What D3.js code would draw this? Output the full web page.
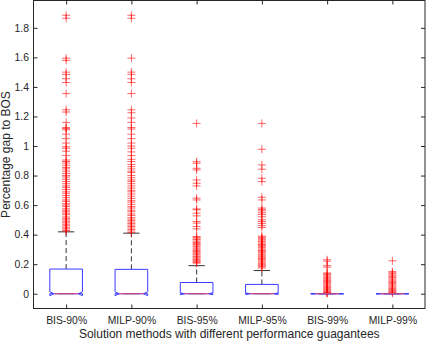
<!DOCTYPE html>
<html>
<head>
<meta charset="utf-8">
<script src="https://cdn.jsdelivr.net/npm/d3@7"></script>
<style>
  body { margin: 0; background: #fff; }
  text { font-family: "Liberation Sans", Arial, sans-serif; fill: #262626; }
</style>
</head>
<body>
<script>
'use strict';

// box statistics
const categories = ["BIS-90%", "MILP-90%", "BIS-95%", "MILP-95%", "BIS-99%", "MILP-99%"];
const q1 = [0, 0, 0, 0, 0, 0];
const medians = [0, 0, 0, 0, 0, 0];
const q3 = [0.167, 0.165, 0.076, 0.063, 0, 0];
const whiskerHi = [0.419, 0.41, 0.19, 0.157, 0, 0];
const whiskerLo = [0, 0, 0, 0, 0, 0];
const yTicks = [0, 0.2, 0.4, 0.6, 0.8, 1, 1.2, 1.4, 1.6, 1.8];

// outliers (red +)
const outBIS90 = [1.885, 1.865, 1.595, 1.58, 1.5, 1.485, 1.455, 1.43, 1.355, 1.245, 1.23, 1.16, 1.125, 1.118,
  1.11, 1.08, 1.05, 1.02, 0.995, 0.985, 0.965, 0.935, 0.905, 0.895, 0.885, 0.87, 0.855, 0.845, 0.83, 0.815,
  0.8, 0.79, 0.775, 0.76, 0.745, 0.73, 0.72, 0.705, 0.69, 0.68, 0.665, 0.65, 0.635, 0.625, 0.61, 0.6, 0.59,
  0.575, 0.565, 0.555, 0.545, 0.535, 0.52, 0.51, 0.5, 0.49, 0.48, 0.47, 0.46, 0.45, 0.44, 0.43, 0.425];
const outMILP90 = [1.885, 1.865, 1.595, 1.5, 1.485, 1.455, 1.43, 1.355, 1.245, 1.225, 1.19, 1.16, 1.125, 1.115,
  1.08, 1.05, 1.02, 1.0, 0.985, 0.96, 0.935, 0.91, 0.895, 0.875, 0.86, 0.845, 0.83, 0.82, 0.8, 0.785, 0.77,
  0.76, 0.745, 0.73, 0.715, 0.7, 0.69, 0.675, 0.66, 0.645, 0.63, 0.62, 0.605, 0.59, 0.58, 0.565, 0.555, 0.54,
  0.53, 0.515, 0.505, 0.495, 0.485, 0.475, 0.465, 0.455, 0.445, 0.435, 0.425, 0.415];
const outBIS95 = [1.153, 0.894, 0.883, 0.849, 0.838, 0.77, 0.748, 0.73, 0.647, 0.635, 0.574, 0.568, 0.545,
  0.527, 0.489, 0.478, 0.455, 0.439, 0.387, 0.381, 0.371, 0.366, 0.356, 0.347, 0.341, 0.333, 0.324, 0.318,
  0.309, 0.301, 0.292, 0.286, 0.277, 0.27, 0.263, 0.254, 0.248, 0.241, 0.232, 0.226, 0.219, 0.212, 0.207];
const outMILP95 = [1.153, 0.978, 0.872, 0.843, 0.782, 0.759, 0.653, 0.635, 0.58, 0.571, 0.561, 0.548, 0.536,
  0.521, 0.5, 0.489, 0.476, 0.461, 0.448, 0.39, 0.382, 0.376, 0.366, 0.357, 0.351, 0.342, 0.333, 0.327, 0.318,
  0.311, 0.302, 0.293, 0.287, 0.278, 0.269, 0.262, 0.254, 0.247, 0.238, 0.231, 0.222, 0.215, 0.206, 0.199,
  0.19, 0.183, 0.174];
const outBIS99 = [0.23, 0.22, 0.19, 0.18, 0.14, 0.135, 0.128, 0.12, 0.112, 0.105, 0.098, 0.09, 0.083, 0.075,
  0.068, 0.06, 0.053, 0.046, 0.04, 0.033, 0.027, 0.02, 0.014, 0.009, 0.005, 0.002];
const outMILP99 = [0.223, 0.15, 0.142, 0.135, 0.126, 0.118, 0.11, 0.1, 0.092, 0.084, 0.076, 0.068, 0.06,
  0.052, 0.044, 0.036, 0.029, 0.022, 0.015, 0.009, 0.004];
const outliers = [outBIS90, outMILP90, outBIS95, outMILP95, outBIS99, outMILP99];

const W = 430, H = 344;
const plot = { left: 33.5, right: 425, top: 0.5, bottom: 308.5 };
const sampleN = 380; // used only for the notch size
const tickFont = '10.4px';

const svg = d3.select('body').append('svg')
  .attr('width', W)
  .attr('height', H);

// x uses positions 1..6 like matlab boxplot
const x = d3.scaleLinear()
  .domain([0.5, 6.5])
  .range([plot.left, plot.right]);

const y = d3.scaleLinear()
  .domain([-0.1, 1.985])
  .range([plot.bottom, plot.top]);

const boxHalf = (x(1.25) - x(1));
const capHalf = boxHalf / 2;

// axes frame
svg.append('rect')
  .attr('x', plot.left)
  .attr('y', plot.top)
  .attr('width', plot.right - plot.left)
  .attr('height', plot.bottom - plot.top)
  .attr('fill', 'none')
  .attr('stroke', '#262626')
  .attr('stroke-width', 1);

// y ticks inward on both sides
const fmt = d => String(+d.toFixed(1));
svg.append('g')
  .attr('transform', 'translate(' + plot.left + ',0)')
  .call(d3.axisLeft(y).tickValues(yTicks).tickFormat(fmt).tickSizeInner(-4).tickSizeOuter(0).tickPadding(4.5))
  .call(g => g.select('.domain').remove())
  .call(g => g.selectAll('line').attr('stroke', '#262626'))
  .call(g => g.selectAll('text').style('font-size', tickFont).attr('fill', '#262626'));

svg.append('g')
  .attr('transform', 'translate(' + plot.right + ',0)')
  .call(d3.axisRight(y).tickValues(yTicks).tickFormat('').tickSizeInner(-4).tickSizeOuter(0))
  .call(g => g.select('.domain').remove())
  .call(g => g.selectAll('line').attr('stroke', '#262626'));

// x ticks inward bottom and top
const xPos = categories.map((c, i) => i + 1);
svg.append('g')
  .attr('transform', 'translate(0,' + plot.bottom + ')')
  .call(d3.axisBottom(x).tickValues(xPos).tickFormat((d, i) => categories[i]).tickSizeInner(-4).tickSizeOuter(0).tickPadding(8))
  .call(g => g.select('.domain').remove())
  .call(g => g.selectAll('line').attr('stroke', '#262626'))
  .call(g => g.selectAll('text').style('font-size', tickFont).attr('fill', '#262626'));

svg.append('g')
  .attr('transform', 'translate(0,' + plot.top + ')')
  .call(d3.axisTop(x).tickValues(xPos).tickFormat('').tickSizeInner(-4).tickSizeOuter(0))
  .call(g => g.select('.domain').remove())
  .call(g => g.selectAll('line').attr('stroke', '#262626'));

// axis labels
svg.append('text')
  .attr('x', (plot.left + plot.right) / 2)
  .attr('y', 337.5)
  .attr('text-anchor', 'middle')
  .style('font-size', '12px')
  .text('Solution methods with different performance guagantees');

svg.append('text')
  .attr('transform', 'translate(9.5,' + ((plot.top + plot.bottom) / 2) + ')rotate(-90)')
  .attr('text-anchor', 'middle')
  .style('font-size', '12px')
  .text('Percentage gap to BOS');

const boxes = categories.map((c, i) => ({
  pos: i + 1, q1: q1[i], med: medians[i], q3: q3[i],
  hi: whiskerHi[i], lo: whiskerLo[i], out: outliers[i]
}));

// whiskers: dashed lines + caps
const wg = svg.append('g');
boxes.forEach(b => {
  wg.append('line')
    .attr('x1', x(b.pos)).attr('x2', x(b.pos))
    .attr('y1', y(b.q3)).attr('y2', y(b.hi))
    .attr('stroke', '#000').attr('stroke-width', 0.8)
    .attr('stroke-dasharray', '5,3');
  [b.hi, b.lo].forEach(v => {
    wg.append('line')
      .attr('x1', x(b.pos) - capHalf).attr('x2', x(b.pos) + capHalf)
      .attr('y1', y(v)).attr('y2', y(v))
      .attr('stroke', '#000').attr('stroke-width', 0.8);
  });
});

// outliers as red plus signs
const og = svg.append('g');
boxes.forEach(b => {
  og.selectAll(null)
    .data(b.out)
    .enter()
    .append('path')
    .attr('transform', d => 'translate(' + x(b.pos) + ',' + y(d) + ')')
    .attr('d', 'M-4,0H4M0,-4V4')
    .attr('stroke', '#ff0000')
    .attr('stroke-width', 0.6)
    .attr('fill', 'none');
});

// notched boxes
const bg = svg.append('g');
boxes.forEach(b => {
  const notch = 1.57 * (b.q3 - b.q1) / Math.sqrt(sampleN);
  const L = x(b.pos) - boxHalf, R = x(b.pos) + boxHalf;
  const inset = boxHalf * 0.25;
  const pts = [
    [L, y(b.q3)], [L, y(b.med + notch)], [L + inset, y(b.med)], [L, y(b.med - notch)], [L, y(b.q1)],
    [R, y(b.q1)], [R, y(b.med - notch)], [R - inset, y(b.med)], [R, y(b.med + notch)], [R, y(b.q3)]
  ];
  bg.append('path')
    .attr('d', d3.line()(pts) + 'Z')
    .attr('fill', 'none')
    .attr('stroke', '#3b3bff')
    .attr('stroke-width', 1);
  bg.append('line')
    .attr('x1', L + inset).attr('x2', R - inset)
    .attr('y1', y(b.med)).attr('y2', y(b.med))
    .attr('stroke', '#e8457a')
    .attr('stroke-width', 1);
});
</script>
</body>
</html>
